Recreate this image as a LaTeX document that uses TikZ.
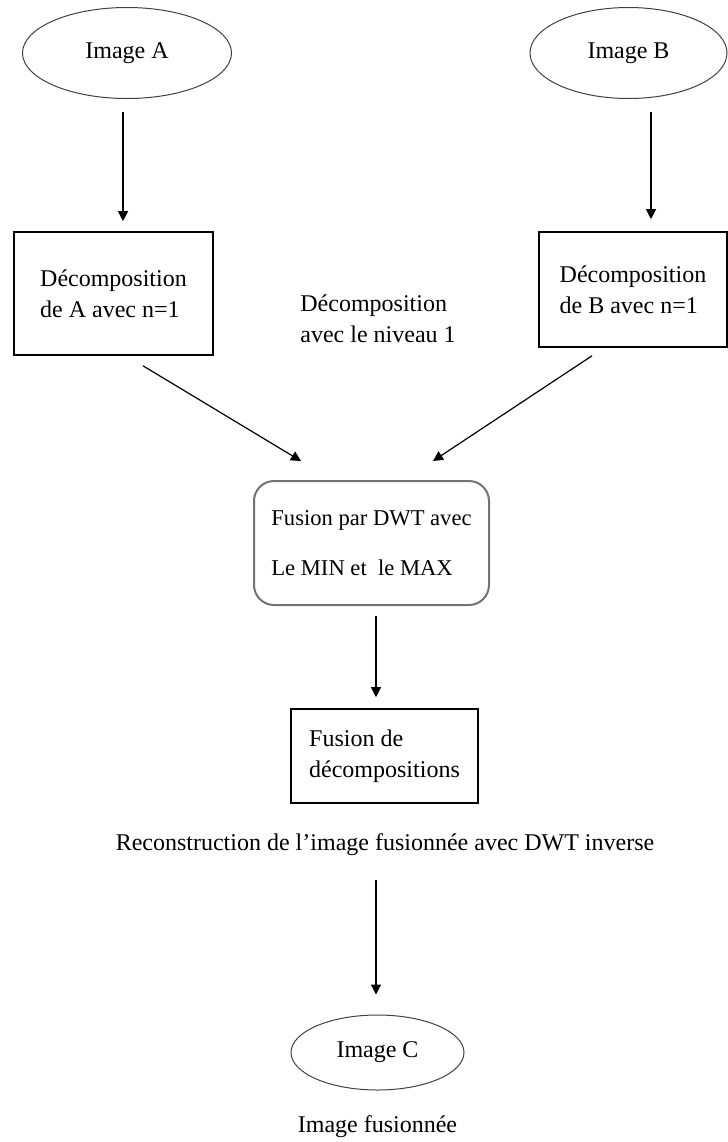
\documentclass[tikz,border=0pt]{standalone}
\usepackage{fontspec}
\setmainfont{Liberation Serif}
\usetikzlibrary{arrows.meta,calc,shapes.geometric}

\begin{document}
\begin{tikzpicture}[x=0.5pt,y=-0.5pt,
    every node/.style={font=\fontsize{12}{15.5}\selectfont,align=left,inner sep=0pt},
    imgnode/.style={draw=black!75,ellipse,line width=0.5pt},
    decbox/.style={draw,line width=0.8pt},
    flow/.style={-{Triangle[width=5pt,length=5pt]},line width=0.6pt}]
    \useasboundingbox (0,0) rectangle (728,1142);
    \node[imgnode,minimum width=104.5pt,minimum height=45.5pt] (imgA) at (127,53) {Image A};
    \node[imgnode,minimum width=98.5pt,minimum height=45.5pt] (imgB) at (628.5,53) {Image B};
    \node[decbox,minimum width=99.5pt,minimum height=61.5pt] (decA) at (113.5,293.5) {Décomposition\\de A avec n=1};
    \node[decbox,minimum width=94pt,minimum height=57.5pt] (decB) at (633,289.5) {Décomposition\\de B avec n=1};
    \node (niveau) at (378,319) {Décomposition\\avec le niveau 1};
    \node[draw=black!55,line width=1pt,rounded corners=10pt,minimum width=117.5pt,minimum height=62pt,font=\fontsize{11.3}{25}\selectfont] (fus) at (371.5,543) {Fusion par DWT avec\\Le MIN et~ le MAX};
    \node[decbox,minimum width=93.5pt,minimum height=47pt] (fdec) at (384.5,756) {Fusion de\\décompositions};
    \node (recon) at (385,845) {Reconstruction de l’image fusionnée avec DWT inverse};
    \node[imgnode,minimum width=86.5pt,minimum height=37.5pt] (imgC) at (377.5,1052.5) {Image C};
    \node (fusionnee) at (377.5,1127) {Image fusionnée};
    % connectors
    \draw[flow] ($(imgA.south)+(-4,13)$) -- ($(decA.north)+(9.5,-10)$);
    \draw[flow] ($(imgB.south)+(22.5,13)$) -- ($(decB.north)+(18,-12)$);
    \draw[flow] ($(decA.south)+(29.5,10)$) -- ($(fus.north west)+(48,-19)$);
    \draw[flow] ($(decB.south)+(-41,8)$) -- ($(fus.north east)+(-57,-19)$);
    \draw[flow] ($(fus.south)+(4.5,10)$) -- ($(fdec.north)+(-8.5,-11)$);
    \draw[flow] ($(recon.south)+(-9,24)$) -- ($(imgC.north)+(-1.5,-20)$);
\end{tikzpicture}
\end{document}
